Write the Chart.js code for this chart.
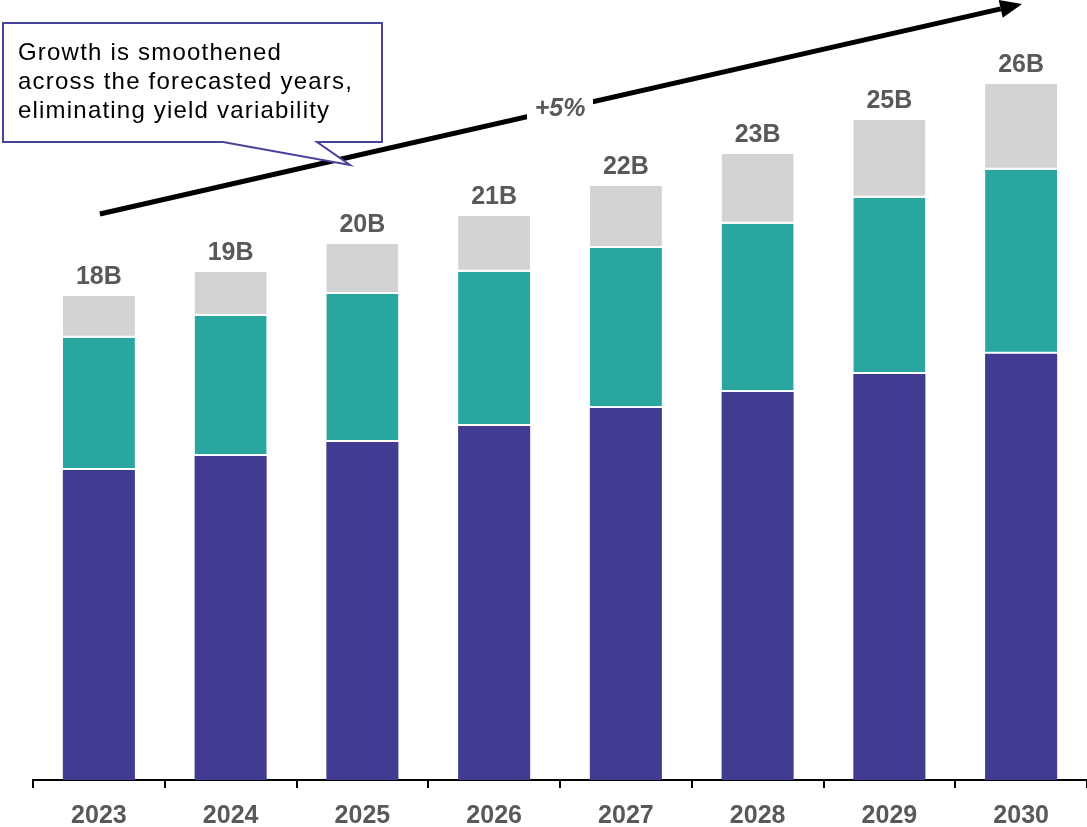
<!DOCTYPE html>
<html>
<head>
<meta charset="utf-8">
<script src="https://cdn.jsdelivr.net/npm/chart.js@4/dist/chart.umd.min.js"></script>
<style>
  html, body { margin: 0; padding: 0; background: #ffffff; }
  canvas { display: block; }
</style>
</head>
<body>
<canvas id="chart" width="1087" height="827"></canvas>
<script>
// Yearly volume, in billions, split into three stacked components
const years = ['2023', '2024', '2025', '2026', '2027', '2028', '2029', '2030'];
const baseVolume = [11.57, 12.09, 12.61, 13.21, 13.88, 14.48, 15.15, 15.90];
const midVolume  = [4.93, 5.22, 5.52, 5.75, 5.97, 6.27, 6.57, 6.87];
const topVolume  = [1.57, 1.64, 1.87, 2.09, 2.31, 2.61, 2.91, 3.21];

const growthText = '+5%';
const calloutLines = [
  'Growth is smoothened',
  'across the forecasted years,',
  'eliminating yield variability'
];

const FONT = '"Liberation Sans", Arial, Helvetica, sans-serif';
const LABEL_GREY = '#595959';
const PURPLE = '#413B92';
const TEAL = '#29A69F';
const GREY = '#D3D3D3';

// Total labels above each stack
const totalLabels = {
  id: 'totalLabels',
  afterDatasetsDraw(chart) {
    const ctx = chart.ctx;
    const topMeta = chart.getDatasetMeta(2);
    ctx.save();
    ctx.font = 'bold 25px ' + FONT;
    ctx.fillStyle = LABEL_GREY;
    ctx.textAlign = 'center';
    ctx.textBaseline = 'alphabetic';
    years.forEach((y, i) => {
      const total = baseVolume[i] + midVolume[i] + topVolume[i];
      const bar = topMeta.data[i];
      ctx.fillText(Math.round(total) + 'B', bar.x, bar.y - 12);
    });
    ctx.restore();
  }
};

// Growth arrow with its rate label, and the explanatory callout
const annotations = {
  id: 'annotations',
  afterDraw(chart) {
    const ctx = chart.ctx;
    const xs = chart.scales.x;
    const x0 = xs.getPixelForValue(0) + 1;
    const x1 = xs.getPixelForValue(years.length - 1) + 1;
    const y0 = 214, y1 = 4;
    const ang = Math.atan2(y1 - y0, x1 - x0);
    const headLen = 22, headHalf = 9;
    const bx = x1 - headLen * Math.cos(ang);
    const by = y1 - headLen * Math.sin(ang);

    ctx.save();
    ctx.strokeStyle = '#000000';
    ctx.lineWidth = 5;
    ctx.lineCap = 'butt';
    ctx.beginPath();
    ctx.moveTo(x0, y0);
    ctx.lineTo(bx, by);
    ctx.stroke();
    ctx.fillStyle = '#000000';
    ctx.beginPath();
    ctx.moveTo(x1, y1);
    ctx.lineTo(bx + headHalf * Math.sin(ang), by - headHalf * Math.cos(ang));
    ctx.lineTo(bx - headHalf * Math.sin(ang), by + headHalf * Math.cos(ang));
    ctx.closePath();
    ctx.fill();

    // rate label sitting in a gap of the arrow
    const tx = 560;
    const ty = y0 + (tx - x0) * (y1 - y0) / (x1 - x0);
    ctx.fillStyle = '#ffffff';
    ctx.fillRect(tx - 33, ty - 16, 66, 32);
    ctx.font = 'italic bold 25px ' + FONT;
    ctx.fillStyle = LABEL_GREY;
    ctx.textAlign = 'center';
    ctx.textBaseline = 'middle';
    ctx.fillText(growthText, tx, ty);

    // callout box with pointer
    ctx.beginPath();
    ctx.moveTo(3, 23);
    ctx.lineTo(382, 23);
    ctx.lineTo(382, 142);
    ctx.lineTo(317, 142);
    ctx.lineTo(350, 165);
    ctx.lineTo(223, 142);
    ctx.lineTo(3, 142);
    ctx.closePath();
    ctx.fillStyle = '#ffffff';
    ctx.fill();
    ctx.strokeStyle = '#47429A';
    ctx.lineWidth = 2;
    ctx.lineJoin = 'miter';
    ctx.stroke();

    ctx.fillStyle = '#000000';
    ctx.font = '24px ' + FONT;
    ctx.textAlign = 'left';
    ctx.textBaseline = 'alphabetic';
    if ('letterSpacing' in ctx) ctx.letterSpacing = '1.2px';
    calloutLines.forEach((line, i) => ctx.fillText(line, 18, 60 + i * 29));
    ctx.restore();
  }
};

const segmentBorder = { top: 0, right: 0, bottom: 2, left: 0 };

new Chart(document.getElementById('chart'), {
  type: 'bar',
  data: {
    labels: years,
    datasets: [
      { data: baseVolume, backgroundColor: PURPLE, borderWidth: 0 },
      { data: midVolume, backgroundColor: TEAL, borderColor: '#ffffff',
        borderWidth: segmentBorder, borderSkipped: false },
      { data: topVolume, backgroundColor: GREY, borderColor: '#ffffff',
        borderWidth: segmentBorder, borderSkipped: false }
    ]
  },
  options: {
    responsive: false,
    animation: false,
    layout: { padding: { left: 33, right: 0, top: 0, bottom: 0 } },
    datasets: { bar: { categoryPercentage: 1, barPercentage: 0.547 } },
    plugins: { legend: { display: false }, tooltip: { enabled: false } },
    scales: {
      x: {
        stacked: true,
        offset: true,
        grid: { display: true, drawOnChartArea: false, drawTicks: true,
                tickLength: 8, color: '#000000', lineWidth: 2, offset: true },
        border: { display: true, color: '#000000', width: 2 },
        ticks: { color: LABEL_GREY, padding: 13,
                 font: { size: 25, weight: 'bold', family: FONT } },
        afterFit(scale) { scale.height = 47; }
      },
      y: { stacked: true, display: false, min: 0, max: 29.1 }
    }
  },
  plugins: [totalLabels, annotations]
});
</script>
</body>
</html>
